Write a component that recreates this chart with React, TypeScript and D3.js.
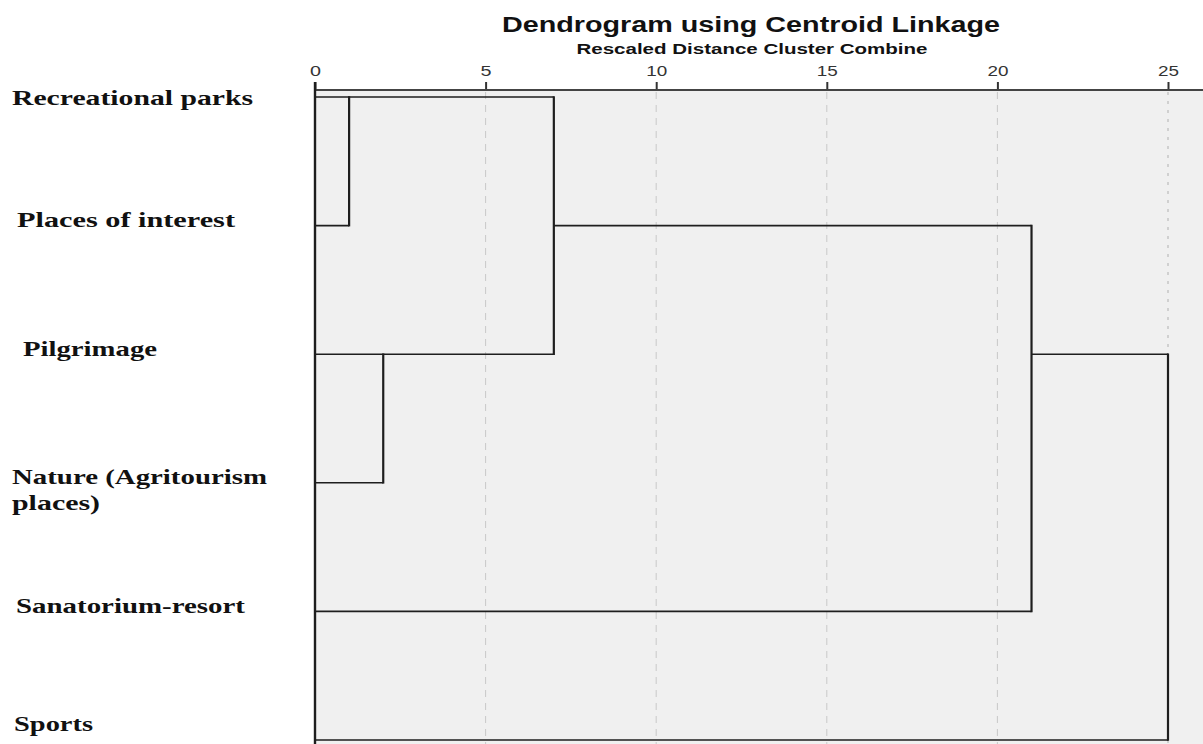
import * as d3 from "d3"
import React, { useEffect, useRef } from "react"

// leaves in display order
const leaves = [
  "Recreational parks",
  "Places of interest",
  "Pilgrimage",
  "Nature (Agritourism places)",
  "Sanatorium-resort",
  "Sports",
]
// merge steps: [cluster a, cluster b, rescaled distance]; clusters 0..5 are leaves, 6.. are merges
const mergeA = [0, 2, 6, 8, 9]
const mergeB = [1, 3, 7, 4, 5]
const mergeDist = [1, 2, 7, 21, 25]
const tickValues = [0, 5, 10, 15, 20, 25]

const title = "Dendrogram using Centroid Linkage"
const subtitle = "Rescaled Distance Cluster Combine"

// label layout (pixel tweaks only) - the source image is stretched horizontally
const labelLines = [
  ["Recreational parks"],
  ["Places of interest"],
  ["Pilgrimage"],
  ["Nature (Agritourism", "places)"],
  ["Sanatorium-resort"],
  ["Sports"],
]
const labelWidths = [[241], [218], [134], [255, 88], [229], [79]]
const labelDx = [12, 17, 23, 12, 16, 14]
const labelDy = [8, 1, 2, 1, 2, -9]

const W = 1203
const H = 744

const Dendrogram = () => {
  const svgRef = useRef<SVGSVGElement>(null)

  useEffect(() => {
    const svg = d3.select(svgRef.current)
    svg.selectAll("*").remove()

    const axisY = 90
    const x = d3.scaleLinear().domain([0, 25]).range([315, 1168])
    const y = d3.scalePoint<number>().domain(d3.range(leaves.length)).range([97, 740])

    // plot background
    svg.append("rect")
      .attr("x", x(0)).attr("y", axisY)
      .attr("width", W - x(0)).attr("height", H - axisY)
      .attr("fill", "#f0f0f0")

    // grid
    svg.append("g").selectAll("line")
      .data(tickValues.slice(1))
      .join("line")
      .attr("x1", (d) => x(d)).attr("x2", (d) => x(d))
      .attr("y1", axisY + 2).attr("y2", H)
      .attr("stroke", (d) => (d === 25 ? "#d0d0d0" : "#c8c8c8"))
      .attr("stroke-width", (d) => (d === 25 ? 2 : 1))
      .attr("stroke-dasharray", (d) => (d === 25 ? "3,6" : "7,6"))

    // axis
    const ax = svg.append("g")
      .attr("transform", `translate(0,${axisY})`)
      .call(d3.axisTop(x).tickValues(tickValues).tickSize(8).tickSizeOuter(0).tickPadding(6).tickFormat(d3.format("d")))
    ax.select(".domain").remove()
    ax.selectAll(".tick line").attr("stroke", "#333").attr("stroke-width", 2)
    ax.selectAll<SVGTextElement, number>(".tick text")
      .attr("fill", "#333")
      .attr("textLength", (d) => (d < 10 ? 11 : 21))
      .attr("lengthAdjust", "spacingAndGlyphs")
      .style("font-family", "'Liberation Sans', Arial, sans-serif")
      .style("font-size", "14px")
    svg.append("line")
      .attr("x1", x(0)).attr("x2", W)
      .attr("y1", axisY).attr("y2", axisY)
      .attr("stroke", "#444").attr("stroke-width", 2)

    // titles
    svg.append("text")
      .attr("x", 751).attr("y", 32)
      .attr("text-anchor", "middle")
      .attr("textLength", 498).attr("lengthAdjust", "spacingAndGlyphs")
      .style("font-family", "'Liberation Sans', Arial, sans-serif")
      .style("font-size", "22px").style("font-weight", "bold")
      .attr("fill", "#111")
      .text(title)
    svg.append("text")
      .attr("x", 752).attr("y", 54)
      .attr("text-anchor", "middle")
      .attr("textLength", 351).attr("lengthAdjust", "spacingAndGlyphs")
      .style("font-family", "'Liberation Sans', Arial, sans-serif")
      .style("font-size", "14px").style("font-weight", "bold")
      .attr("fill", "#111")
      .text(subtitle)

    // build dendrogram segments (SPSS style: parent row = median leaf row)
    const clusters: { members: number[]; h: number; row: number }[] =
      leaves.map((_, i) => ({ members: [i], h: 0, row: i }))
    const hSegs: { x1: number; x2: number; r: number }[] = []
    const vSegs: { x: number; r1: number; r2: number }[] = []
    mergeDist.forEach((dist, i) => {
      const a = clusters[mergeA[i]]
      const b = clusters[mergeB[i]]
      hSegs.push({ x1: a.h, x2: dist, r: a.row })
      hSegs.push({ x1: b.h, x2: dist, r: b.row })
      vSegs.push({ x: dist, r1: a.row, r2: b.row })
      const members = [...a.members, ...b.members].sort((p, q) => p - q)
      clusters.push({ members, h: dist, row: members[Math.floor((members.length - 1) / 2)] })
    })

    const g = svg.append("g").attr("stroke", "#1e1e1e").attr("fill", "none")
    g.selectAll(".h").data(hSegs).join("line")
      .attr("x1", (d) => x(d.x1)).attr("x2", (d) => x(d.x2))
      .attr("y1", (d) => y(d.r)!).attr("y2", (d) => y(d.r)!)
      .attr("stroke-width", 1.6)
    g.selectAll(".v").data(vSegs).join("line")
      .attr("x1", (d) => x(d.x)).attr("x2", (d) => x(d.x))
      .attr("y1", (d) => y(d.r1)! - 0.8).attr("y2", (d) => y(d.r2)! + 0.8)
      .attr("stroke-width", 2.2)
    // baseline at 0
    g.append("line")
      .attr("x1", x(0)).attr("x2", x(0))
      .attr("y1", axisY - 8).attr("y2", H)
      .attr("stroke-width", 2.4)

    // leaf labels
    const lab = svg.append("g")
      .style("font-family", "'Liberation Serif', 'Times New Roman', serif")
      .style("font-size", "22px").style("font-weight", "bold")
      .attr("fill", "#111")
    leaves.forEach((_, i) => {
      labelLines[i].forEach((line, j) => {
        lab.append("text")
          .attr("x", labelDx[i])
          .attr("y", y(i)! + labelDy[i] + j * 26)
          .attr("textLength", labelWidths[i][j])
          .attr("lengthAdjust", "spacingAndGlyphs")
          .text(line)
      })
    })
  }, [])

  return (
    <svg ref={svgRef} width={W} height={H}
      style={{ position: "absolute", left: 0, top: 0, background: "#fff" }} />
  )
}

export default function App() {
  return <Dendrogram />
}
